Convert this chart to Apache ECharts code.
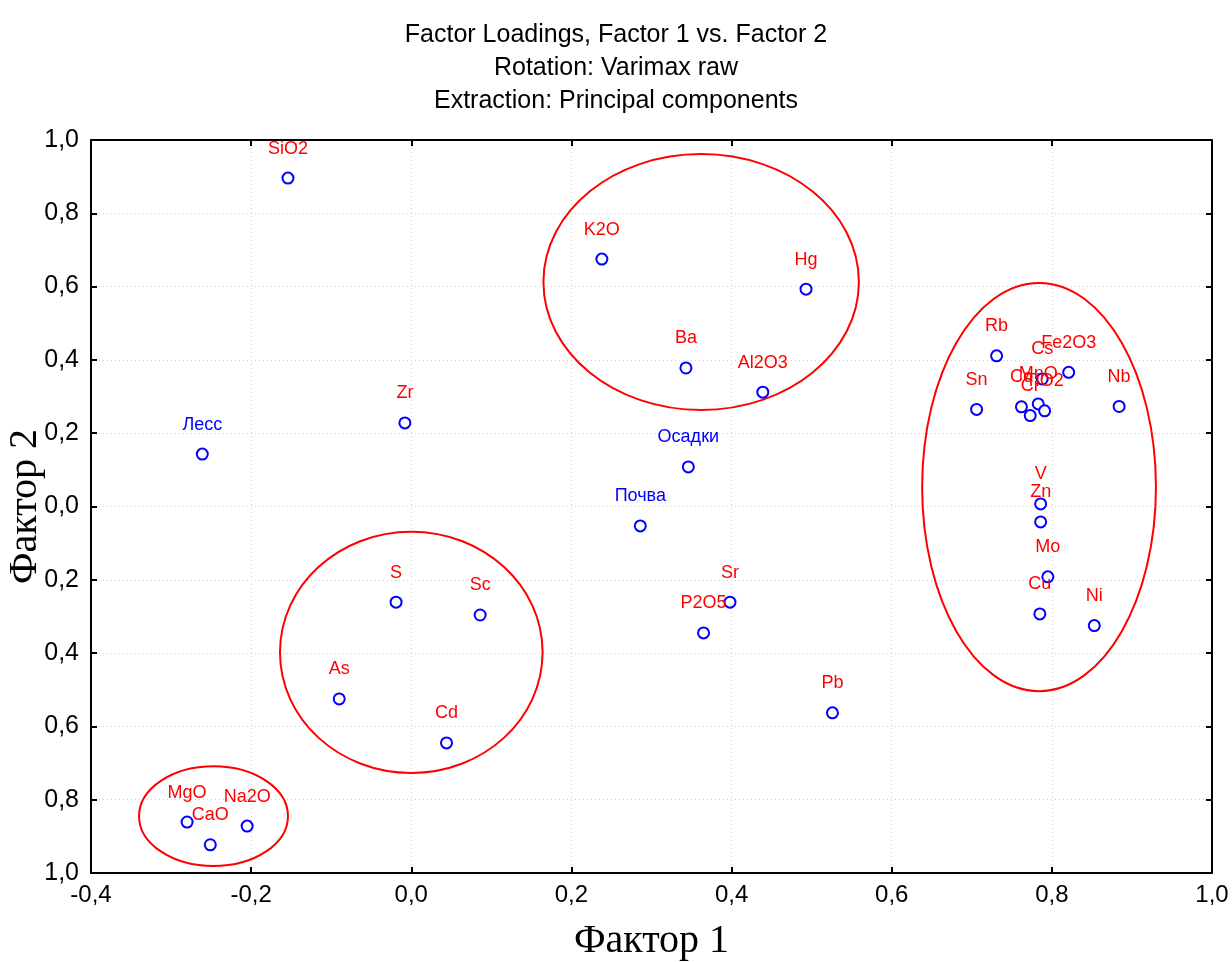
<!DOCTYPE html>
<html>
<head>
<meta charset="utf-8">
<script src="https://cdn.jsdelivr.net/npm/echarts@6/dist/echarts.min.js"></script>
<style>
  html, body { margin: 0; padding: 0; background: #fff; }
  #chart { width: 1232px; height: 962px; }
</style>
</head>
<body>
<div id="chart"></div>
<script>
// factor loadings
const elements = ['SiO2', 'K2O', 'Hg', 'Ba', 'Al2O3', 'Zr', 'Лесс', 'Осадки', 'Почва',
  'S', 'Sc', 'Sr', 'P2O5', 'As', 'Cd', 'Pb', 'MgO', 'CaO', 'Na2O',
  'Rb', 'Fe2O3', 'Cs', 'Sn', 'Nb', 'Co', 'Cr', 'MnO', 'TiO2', 'V', 'Zn', 'Mo', 'Cu', 'Ni'];
const factor1 = [-0.154, 0.238, 0.493, 0.343, 0.439, -0.008, -0.261, 0.346, 0.286,
  -0.019, 0.086, 0.398, 0.365, -0.090, 0.044, 0.526, -0.280, -0.251, -0.205,
  0.731, 0.821, 0.788, 0.706, 0.884, 0.762, 0.773, 0.783, 0.791, 0.786, 0.786, 0.795, 0.785, 0.853];
const factor2 = [0.896, 0.675, 0.593, 0.378, 0.312, 0.228, 0.143, 0.108, -0.053,
  -0.261, -0.296, -0.261, -0.345, -0.525, -0.645, -0.563, -0.861, -0.923, -0.872,
  0.411, 0.366, 0.348, 0.265, 0.273, 0.272, 0.248, 0.280, 0.261, 0.007, -0.042, -0.192, -0.293, -0.325];
// sample types (labelled in blue), the rest are elements
const samples = ['Лесс', 'Осадки', 'Почва'];

// groups circled on the plot: centre and half-axes in factor units
const groupCx = [0.362, 0.784, 0.000, -0.247];
const groupCy = [0.6125, 0.053, -0.398, -0.845];
const groupRx = [0.197, 0.146, 0.164, 0.093];
const groupRy = [0.349, 0.557, 0.329, 0.136];

const xTicks = { min: -0.4, max: 1.0, interval: 0.2 };
const yTicks = { min: -1.0, max: 1.0, interval: 0.2 };

const fmt = v => Math.abs(v).toFixed(1).replace('.', ',');
const fmtX = v => (v < -1e-9 ? '-' : '') + Math.abs(v).toFixed(1).replace('.', ',');

const sans = '"Liberation Sans", Arial, sans-serif';
const serif = '"Liberation Serif", "Times New Roman", serif';

const chart = echarts.init(document.getElementById('chart'));

const axisBase = {
  axisLine: { show: true, onZero: false, lineStyle: { color: '#000', width: 2 } },
  axisTick: { show: true, inside: true, length: 6, lineStyle: { color: '#000', width: 2 } }
};

chart.setOption({
  backgroundColor: '#fff',
  animation: false,
  title: {
    text: 'Factor Loadings, Factor 1 vs. Factor 2\nRotation: Varimax raw\nExtraction: Principal components',
    left: 'center',
    top: 14,
    textStyle: { fontFamily: sans, fontSize: 25, fontWeight: 'normal', color: '#000', lineHeight: 33 }
  },
  grid: { left: 91, right: 20, top: 140, bottom: 89, containLabel: false, outerBoundsMode: 'none' },
  xAxis: [{
    type: 'value', ...xTicks, ...axisBase,
    name: 'Фактор 1', nameLocation: 'middle', nameGap: 48, nameMoveOverlap: false,
    nameTextStyle: { fontFamily: serif, fontSize: 40, color: '#000' },
    axisLabel: { formatter: fmtX, fontFamily: sans, fontSize: 24, color: '#000', margin: 10 },
    splitLine: { show: true, lineStyle: { color: '#cfcfcf', type: [1, 3], width: 1 } }
  }, {
    type: 'value', position: 'top', ...xTicks, ...axisBase,
    axisLabel: { show: false }, splitLine: { show: false }
  }],
  yAxis: [{
    type: 'value', ...yTicks, ...axisBase,
    name: 'Фактор 2', nameLocation: 'middle', nameGap: 46, nameMoveOverlap: false,
    nameTextStyle: { fontFamily: serif, fontSize: 40, color: '#000' },
    axisLabel: { formatter: fmt, fontFamily: sans, fontSize: 25, color: '#000', margin: 12 },
    splitLine: { show: true, lineStyle: { color: '#cfcfcf', type: [1, 3], width: 1 } }
  }, {
    type: 'value', position: 'right', ...yTicks, ...axisBase,
    axisLabel: { show: false }, splitLine: { show: false }
  }],
  series: [{
    type: 'custom',
    silent: true,
    clip: true,
    data: groupCx.map((cx, i) => [cx, groupCy[i], groupRx[i], groupRy[i]]),
    renderItem: (params, api) => {
      const c = api.coord([api.value(0), api.value(1)]);
      const s = api.size([api.value(2), api.value(3)]);
      return {
        type: 'ellipse',
        shape: { cx: c[0], cy: c[1], rx: s[0], ry: s[1] },
        style: { fill: 'none', stroke: '#ff0000', lineWidth: 2 }
      };
    },
    z: 1
  }, {
    type: 'scatter',
    symbol: 'emptyCircle',
    symbolSize: 11,
    itemStyle: { color: '#0000ff', borderColor: '#0000ff', borderWidth: 2, opacity: 1 },
    label: {
      show: true, position: 'top', distance: 14,
      formatter: p => p.name,
      fontFamily: sans, fontSize: 18
    },
    data: elements.map((n, i) => ({
      name: n,
      value: [factor1[i], factor2[i]],
      label: { color: samples.includes(n) ? '#0000ff' : '#ff0000' }
    })),
    z: 3
  }]
});
</script>
</body>
</html>
